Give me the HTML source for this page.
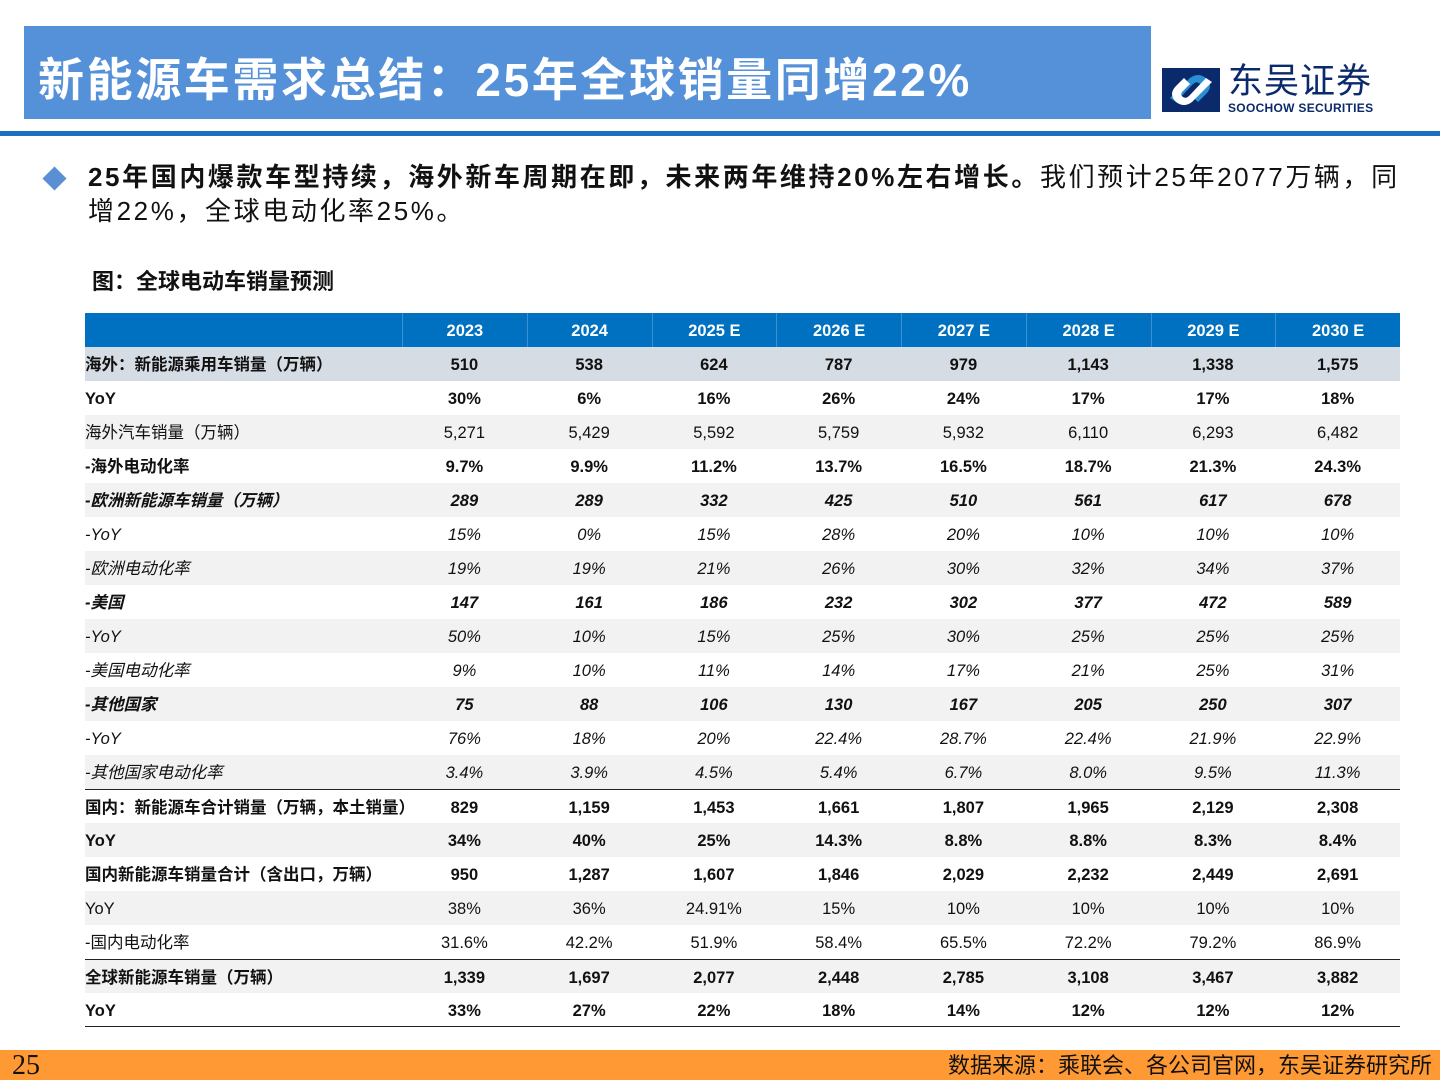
<!DOCTYPE html>
<html><head><meta charset="utf-8">
<style>
*{margin:0;padding:0;box-sizing:border-box}
body{width:1440px;height:1080px;background:#fff;position:relative;overflow:hidden;font-family:"Liberation Sans","Noto Sans CJK SC",sans-serif;color:#111}
.abs{position:absolute}
#title-bar{left:24px;top:26px;width:1127px;height:93px;background:#5591d8}
#title-text{left:38px;top:44px;font-size:46px;font-weight:bold;color:#fff;white-space:nowrap;letter-spacing:2.6px}
#rule{left:0;top:131px;width:1440px;height:5px;background:#1a6fc0}
#bullet{left:46px;top:170px;width:17px;height:17px;background:#5b8fd4;transform:rotate(45deg)}
#lead{left:88px;top:160px;width:1340px;font-size:26px;line-height:34px;letter-spacing:2.6px;white-space:nowrap}
#fig-title{left:92px;top:264px;font-size:22px;font-weight:bold}
#tbl{left:85px;top:313px;width:1315px}
.row{position:absolute;left:0;width:1315px;height:34px;font-size:16.5px}
.cell{position:absolute;top:0;height:34px;line-height:36px;text-align:center;width:125px}
.lab{position:absolute;left:0;top:0;height:34px;line-height:36px;white-space:nowrap}
#footer{left:0;top:1050px;width:1440px;height:30px;background:#ff9933}
#page-num{left:12px;top:1050px;font-family:"Liberation Serif",serif;font-size:28px;line-height:32px;color:#111}
#source{right:8px;top:1052px;font-size:22px;line-height:28px;color:#111}
</style></head><body>
<div class="abs" id="title-bar"></div>
<div class="abs" id="title-text">新能源车需求总结：25年全球销量同增22%</div>
<div class="abs" style="left:1162px;top:68px;width:60px;height:46px">
<svg width="60" height="46" viewBox="0 0 60 46"><rect x="0" y="0" width="58" height="44" fill="#0b2a6b"/><path d="M8 30 L28 10 Q36 4 44 10 Q52 18 44 26 L36 34 L30 28 L38 20 Q40 17 37 15 Q34 13 31 16 L14 34 Z" fill="#2b8fd6"/><path d="M50 14 L30 34 Q22 40 14 34 Q6 26 14 18 L22 10 L28 16 L20 24 Q18 27 21 29 Q24 31 27 28 L44 10 Z" fill="#fff"/></svg></div>
<div class="abs" style="left:1228px;top:62px;font-size:35px;line-height:40px;color:#0b2a6b;letter-spacing:1px">东吴证券</div>
<div class="abs" style="left:1228px;top:101px;font-size:12px;font-weight:bold;color:#0b2a6b;letter-spacing:0.3px">SOOCHOW SECURITIES</div>
<div class="abs" id="rule"></div>
<div class="abs" id="bullet"></div>
<div class="abs" id="lead"><b>25年国内爆款车型持续，海外新车周期在即，未来两年维持20%左右增长。</b>我们预计25年2077万辆，同<br>增22%，全球电动化率25%。</div>
<div class="abs" id="fig-title">图：全球电动车销量预测</div>
<div class="abs" id="tbl"></div>
<div class="abs" id="footer"></div>
<div class="abs" id="page-num">25</div>
<div class="abs" id="source">数据来源：乘联会、各公司官网，东吴证券研究所</div>
<script>
const years = ["2023","2024","2025 E","2026 E","2027 E","2028 E","2029 E","2030 E"];
const rowLabels = ["海外：新能源乘用车销量（万辆）","YoY","海外汽车销量（万辆）","-海外电动化率","-欧洲新能源车销量（万辆）","-YoY","-欧洲电动化率","-美国","-YoY","-美国电动化率","-其他国家","-YoY","-其他国家电动化率","国内：新能源车合计销量（万辆，本土销量）","YoY","国内新能源车销量合计（含出口，万辆）","YoY","-国内电动化率","全球新能源车销量（万辆）","YoY"];
const rowStyles = ["b","b","n","b","bi","i","i","bi","i","i","bi","i","i","b","b","b","n","n","b","b"];
const r0 = ["510","538","624","787","979","1,143","1,338","1,575"];
const r1 = ["30%","6%","16%","26%","24%","17%","17%","18%"];
const r2 = ["5,271","5,429","5,592","5,759","5,932","6,110","6,293","6,482"];
const r3 = ["9.7%","9.9%","11.2%","13.7%","16.5%","18.7%","21.3%","24.3%"];
const r4 = ["289","289","332","425","510","561","617","678"];
const r5 = ["15%","0%","15%","28%","20%","10%","10%","10%"];
const r6 = ["19%","19%","21%","26%","30%","32%","34%","37%"];
const r7 = ["147","161","186","232","302","377","472","589"];
const r8 = ["50%","10%","15%","25%","30%","25%","25%","25%"];
const r9 = ["9%","10%","11%","14%","17%","21%","25%","31%"];
const r10 = ["75","88","106","130","167","205","250","307"];
const r11 = ["76%","18%","20%","22.4%","28.7%","22.4%","21.9%","22.9%"];
const r12 = ["3.4%","3.9%","4.5%","5.4%","6.7%","8.0%","9.5%","11.3%"];
const r13 = ["829","1,159","1,453","1,661","1,807","1,965","2,129","2,308"];
const r14 = ["34%","40%","25%","14.3%","8.8%","8.8%","8.3%","8.4%"];
const r15 = ["950","1,287","1,607","1,846","2,029","2,232","2,449","2,691"];
const r16 = ["38%","36%","24.91%","15%","10%","10%","10%","10%"];
const r17 = ["31.6%","42.2%","51.9%","58.4%","65.5%","72.2%","79.2%","86.9%"];
const r18 = ["1,339","1,697","2,077","2,448","2,785","3,108","3,467","3,882"];
const r19 = ["33%","27%","22%","18%","14%","12%","12%","12%"];
const rowValues = [r0,r1,r2,r3,r4,r5,r6,r7,r8,r9,r10,r11,r12,r13,r14,r15,r16,r17,r18,r19];
const tbl = document.getElementById('tbl');
const ROWH = 34, LABW = 317, COLW = 124.75;
function colX(i){ return LABW + i*COLW; }
const hdr = document.createElement('div');


hdr.className = 'row';
hdr.style.top = '0px'; hdr.style.background = '#0070c0'; hdr.style.color = '#fff'; hdr.style.fontWeight = 'bold';
years.forEach((y,i)=>{
  const c = document.createElement('div');
  
  
  c.className = 'cell'; c.style.left = colX(i)+'px'; c.style.width = COLW+'px';
  c.style.borderLeft = '1px solid #3d8fd0';
  c.textContent = y; hdr.appendChild(c);
});
tbl.appendChild(hdr);
rowLabels.forEach((lab,r)=>{
  const row = document.createElement('div');
  
  
  row.className = 'row';
  row.style.top = (ROWH*(r+1))+'px';
  if (r===0) row.style.background = '#d6dce4';
  else if (r%2===0) row.style.background = '#f2f2f2';
  const st = rowStyles[r];
  if (st.indexOf('b')>=0) row.style.fontWeight = 'bold';
  if (st.indexOf('i')>=0) row.style.fontStyle = 'italic';
  if (r===13 || r===18) row.style.borderTop = '1.5px solid #222';
  if (r===19) row.style.borderBottom = '1.5px solid #222';
  const l = document.createElement('div');
  
  
  l.className = 'lab'; l.textContent = lab; row.appendChild(l);
  rowValues[r].forEach((v,i)=>{
    const c = document.createElement('div');
    
    
    c.className = 'cell'; c.style.left = colX(i)+'px'; c.style.width = COLW+'px';
    c.textContent = v; row.appendChild(c);
  });
  tbl.appendChild(row);
});
</script>
</body></html>
